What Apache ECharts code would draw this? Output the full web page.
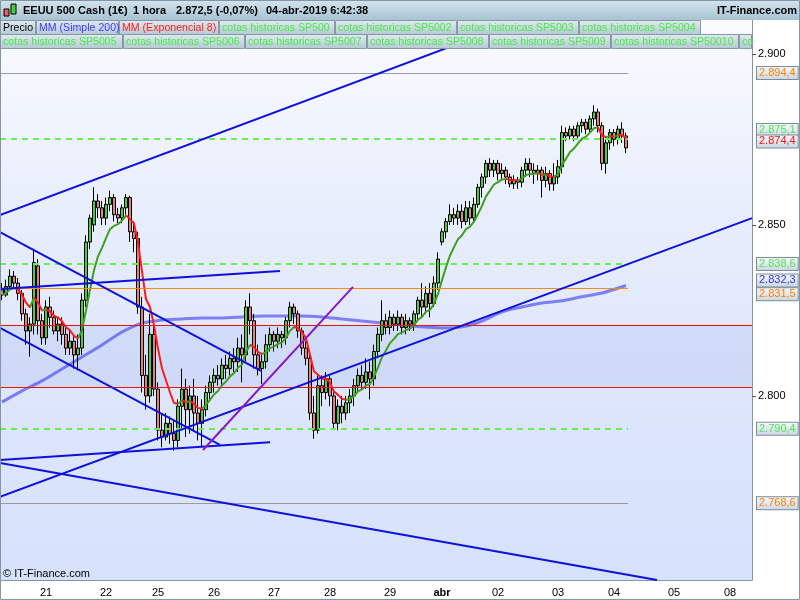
<!DOCTYPE html>
<html>
<head>
<meta charset="utf-8">
<script src="https://cdn.jsdelivr.net/npm/echarts@6/dist/echarts.min.js"></script>
<style>
  html, body { margin: 0; padding: 0; background: #fff; }
  #chart { width: 800px; height: 600px; }
</style>
</head>
<body>
<div id="chart"></div>
<script>
// x axis: one slot per candle, day labels at these slots
const slotCount = 188;
const dayLabels = ['21', '22', '25', '26', '27', '28', '29', 'abr', '02', '03', '04', '05', '08'];
const daySlots = [11, 26, 39, 53, 68, 82, 97, 110, 124, 139, 153, 168, 182];

// y axis extent and labelled ticks
const yMin = 2746.2;
const yMax = 2909.9;
const yTicks = [2800, 2850, 2900];

// [open, close, low, high]
const candles = [
  [2831, 2829.5, 2828, 2833], [2829.5, 2832, 2829, 2834], [2832, 2835, 2831, 2837], [2835, 2833, 2831.5, 2836.5],
  [2833, 2830, 2828, 2834.5], [2830, 2824, 2822, 2831], [2824, 2819, 2815, 2825.5], [2819, 2821, 2811.5, 2823],
  [2821, 2839, 2818, 2843], [2838, 2822, 2818, 2840], [2822, 2817, 2815, 2824], [2817, 2826, 2815, 2828],
  [2826, 2823, 2820, 2829], [2823, 2819, 2818, 2825], [2819, 2821, 2816, 2823], [2821, 2818, 2815, 2823],
  [2818, 2814, 2812, 2820], [2814, 2816, 2812, 2819], [2816, 2812, 2808, 2818], [2812, 2814, 2807.5, 2818],
  [2814, 2828, 2812, 2830], [2828, 2845, 2826, 2847], [2845, 2852, 2843, 2853], [2850, 2857, 2848, 2861],
  [2857, 2855, 2852, 2859], [2855, 2852, 2850, 2857], [2852, 2856, 2850, 2858], [2856, 2858, 2854, 2860],
  [2858, 2853, 2851, 2859], [2853, 2852, 2850.5, 2855], [2852, 2855, 2850.5, 2856], [2855, 2858, 2853, 2859],
  [2858, 2848, 2845, 2858.5], [2848, 2846, 2842, 2851], [2846, 2826, 2824, 2848], [2826, 2806, 2801, 2829],
  [2806, 2800, 2796, 2812], [2800, 2818, 2798, 2824], [2818, 2802, 2800, 2822], [2802, 2790, 2787, 2804],
  [2790, 2788, 2785, 2795], [2788, 2792, 2787, 2795], [2792, 2789, 2786, 2794], [2789, 2787, 2784, 2793],
  [2787, 2797, 2785, 2799], [2797, 2802, 2790, 2808], [2802, 2796, 2788, 2805], [2796, 2800, 2789, 2803],
  [2800, 2795, 2790, 2805], [2795, 2792, 2787, 2800], [2792, 2796, 2785, 2799], [2796, 2801, 2794, 2803],
  [2801, 2804, 2799, 2806], [2804, 2806, 2801, 2808], [2806, 2805, 2803, 2809], [2805, 2809, 2803, 2811],
  [2809, 2808, 2805, 2812], [2808, 2811, 2806, 2813], [2811, 2810, 2807, 2814], [2810, 2814, 2807, 2817],
  [2814, 2812, 2804, 2818], [2812, 2826, 2810, 2828], [2826, 2822, 2818, 2830], [2822, 2812, 2808, 2824],
  [2812, 2808, 2806, 2815], [2808, 2810, 2803.5, 2812], [2810, 2815, 2808, 2818], [2815, 2818, 2813, 2820],
  [2818, 2816, 2813, 2819], [2816, 2818, 2814, 2820], [2818, 2817, 2814, 2819], [2817, 2822, 2815, 2823],
  [2822, 2826, 2820, 2827.5], [2826, 2824, 2821, 2827], [2824, 2819, 2817, 2825], [2819, 2814, 2812, 2820],
  [2814, 2811, 2809, 2816], [2811, 2795, 2793, 2813], [2795, 2790, 2787.5, 2800], [2790, 2803, 2789, 2806],
  [2803, 2801, 2797, 2806], [2801, 2805, 2799, 2807], [2805, 2800, 2797, 2806], [2800, 2792, 2790, 2802],
  [2792, 2797, 2790, 2799], [2797, 2795, 2792, 2800], [2795, 2798, 2793, 2800], [2798, 2800, 2795, 2802],
  [2800, 2803, 2797, 2805], [2803, 2806, 2801, 2808], [2806, 2804, 2802, 2809], [2804, 2807, 2802, 2811],
  [2807, 2805, 2799, 2810], [2805, 2813, 2803, 2815], [2813, 2818, 2811, 2820], [2818, 2822, 2816, 2828],
  [2822, 2820, 2818, 2824], [2820, 2823, 2818, 2825], [2823, 2821, 2819, 2824], [2821, 2823, 2819, 2825],
  [2823, 2820, 2818, 2824], [2820, 2822, 2818, 2824], [2822, 2821, 2819, 2823], [2821, 2824, 2819, 2825],
  [2824, 2828, 2822, 2829], [2828, 2826, 2823, 2833], [2826, 2830, 2824, 2832], [2830, 2827, 2823, 2833],
  [2827, 2833, 2826, 2835], [2833, 2840, 2831, 2842], [2845, 2848, 2844, 2849], [2848, 2851, 2846, 2852],
  [2851, 2853, 2850, 2856], [2853, 2852, 2850, 2855], [2852, 2854, 2850, 2856], [2854, 2851, 2849, 2856],
  [2851, 2855, 2850, 2857], [2855, 2852, 2850, 2857], [2852, 2856, 2851, 2858], [2856, 2861, 2855, 2862],
  [2861, 2864, 2858, 2865], [2864, 2868, 2862, 2869], [2868, 2866, 2864, 2869.5], [2866, 2868, 2864, 2869],
  [2868, 2865, 2863, 2869], [2865, 2866, 2863, 2868], [2866, 2864, 2862, 2867], [2864, 2862, 2861, 2865],
  [2862, 2863, 2860.5, 2864.5], [2863, 2862.5, 2860.5, 2864], [2862.5, 2866, 2861, 2867], [2866, 2868, 2864, 2869.5],
  [2868, 2866, 2864, 2869.5], [2866, 2865, 2862, 2868], [2865, 2866, 2863, 2867.5], [2866, 2863, 2858, 2867],
  [2863, 2865, 2861, 2867], [2865, 2862, 2860, 2866], [2862, 2864, 2860, 2868], [2864, 2867, 2862, 2869],
  [2867, 2877, 2865, 2879], [2877, 2876, 2874.5, 2878.5], [2876, 2878, 2875, 2879], [2878, 2876, 2874.5, 2879],
  [2876, 2879, 2875, 2880], [2879, 2880, 2877, 2881], [2880, 2878, 2876.5, 2881], [2878, 2881, 2877, 2882],
  [2881, 2883, 2879, 2885], [2883, 2879, 2877, 2884], [2879, 2868, 2866, 2880], [2868, 2874, 2865, 2876],
  [2874, 2877, 2872, 2878], [2877, 2875, 2873, 2878], [2875, 2878, 2873.5, 2879], [2878, 2876, 2874, 2880],
  [2876, 2872.5, 2871, 2877]
];

// MM (Simple 200) as [slot, value]
const sma200 = [
  [0, 2798.2], [5, 2801.5], [10, 2804.4], [15, 2807.9], [20, 2811.4], [25, 2814.9], [30, 2818.7],
  [35, 2821.3], [40, 2822.2], [45, 2822.5], [50, 2822.8], [55, 2822.8], [60, 2823.1], [65, 2823.4],
  [70, 2823.4], [75, 2823.4], [80, 2823.1], [85, 2822.5], [90, 2821.9], [95, 2821.3], [100, 2820.8],
  [105, 2820.2], [110, 2819.9], [115, 2820.2], [120, 2821.9], [125, 2824.6], [130, 2826.0],
  [135, 2827.2], [140, 2827.8], [145, 2829.0], [150, 2830.1], [156, 2832.3]
];

// horizontal levels ("cotas historicas") drawn up to the last candle
const levelValues = [2894.4, 2875.1, 2838.6, 2831.5, 2790.4, 2768.6];
const levelKinds = ['gray', 'green', 'green', 'orange', 'green', 'gray'];
// full width red lines
const bandValues = [2802.6, 2820.6];

// drawn trend lines, [slot, price] end points
const trendLines = [
  [[-0.5, 2852.9], [140, 2914.3]],
  [[-0.5, 2847.9], [64.75, 2807.3]],
  [[-0.5, 2819.9], [54.5, 2785.7]],
  [[-0.5, 2831.3], [69.5, 2836.5]],
  [[-0.5, 2781.3], [67, 2786.5]],
  [[-0.5, 2770.5], [187.5, 2852.0]],
  [[-0.5, 2780.4], [163.75, 2746.2]]
];
const purpleLine = [[50.25, 2784.2], [87.75, 2831.9]];

// price tags on the right axis
const tagValues = [2894.4, 2875.1, 2874.4, 2838.6, 2832.3, 2831.5, 2790.4, 2768.6];
const tagKinds = ['orange', 'green', 'red', 'green', 'blue', 'orange', 'green', 'orange'];
const tagShift = [0, -9, 0, 0, -5, 6, 0, 0];

const FONT = '"Liberation Sans", Arial, sans-serif';
const kindColor = { gray: '#9a9a9a', green: '#5cec5c', orange: '#ff8a10', red: '#ff1010', blue: '#3434f0' };
const tagColor = { green: '#4ee44e', orange: '#ff7f00', red: '#ff1010', blue: '#3434f0' };

const fmt = (v, d) => {
  const s = v.toFixed(d).split('.');
  const int = s[0].replace(/\B(?=(\d{3})+(?!\d))/g, '.');
  return s[1] ? int + ',' + s[1] : int;
};

const categories = [];
for (let i = 0; i < slotCount; i++) {
  const k = daySlots.indexOf(i);
  categories.push(k >= 0 ? dayLabels[k] : '');
}

// EMA 8 on closes, red where falling
const ema = [];
candles.forEach((c, i) => {
  ema.push(i === 0 ? c[1] : ema[i - 1] + (c[1] - ema[i - 1]) * 2 / 9);
});
const emaData = ema.map((v, i) => [i, v]);
const fallPieces = [];
let runStart = -1;
for (let i = 1; i <= ema.length; i++) {
  const falling = i < ema.length && ema[i] < ema[i - 1];
  if (falling && runStart < 0) runStart = i - 1;
  if (!falling && runStart >= 0) {
    fallPieces.push({ gte: runStart, lte: i - 1, color: '#ff1a1a' });
    runStart = -1;
  }
}

const grad = (stops) => new echarts.graphic.LinearGradient(0, 0, 0, 1,
  stops.map((c, i) => ({ offset: i / (stops.length - 1), color: c })));

// legend cells at the top
const cellsRow1 = [
  ['Precio', '#000', 0, 36], ['MM (Simple 200)', '#3c3cff', 36, 83], ['MM (Exponencial 8)', '#ff2020', 119, 100],
  ['cotas historicas SP500', '#44ee44', 219, 116], ['cotas historicas SP5002', '#44ee44', 335, 122],
  ['cotas historicas SP5003', '#44ee44', 457, 122], ['cotas historicas SP5004', '#44ee44', 579, 122]
];
const cellsRow2 = [
  ['cotas historicas SP5005', '#44ee44', 0, 123], ['cotas historicas SP5006', '#44ee44', 123, 122],
  ['cotas historicas SP5007', '#44ee44', 245, 122], ['cotas historicas SP5008', '#44ee44', 367, 122],
  ['cotas historicas SP5009', '#44ee44', 489, 122], ['cotas historicas SP50010', '#44ee44', 611, 128],
  ['co', '#44ee44', 739, 13]
];
const cellEls = [];
[[cellsRow1, 20], [cellsRow2, 34]].forEach(([row, top]) => {
  row.forEach(([txt, col, x, w]) => {
    cellEls.push({
      type: 'rect', z: 100,
      shape: { x: x + 0.5, y: top + 0.5, width: w - 1, height: 14 },
      style: { fill: grad(['#e2eaf0', '#b4c8d4']), stroke: '#8699a6', lineWidth: 1 }
    });
    cellEls.push({
      type: 'text', z: 101, x: x + 3, y: top + 8,
      style: { text: txt, fill: col, font: '10.6px ' + FONT, textVerticalAlign: 'middle' }
    });
  });
});

const chart = echarts.init(document.getElementById('chart'), null, { renderer: 'canvas' });

const option = {
  animation: false,
  backgroundColor: '#fff',
  grid: {
    left: 0, right: 48, top: 20, bottom: 20, show: true, borderWidth: 0,
    backgroundColor: grad(['#fafbff', '#e8eefc', '#dde6fb', '#d6e2fc'])
  },
  xAxis: [
    {
      type: 'category', data: categories, boundaryGap: true,
      axisLine: { lineStyle: { color: '#8596a3' } },
      axisTick: { alignWithLabel: true, length: 4, lineStyle: { color: '#8596a3' }, interval: (i, v) => v !== '' },
      axisLabel: {
        interval: (i, v) => v !== '', color: '#000', fontSize: 11, fontFamily: FONT, margin: 7,
        formatter: (v) => (v === 'abr' ? '{b|abr}' : v),
        rich: { b: { fontWeight: 'bold', fontSize: 11, fontFamily: FONT, color: '#000' } }
      },
      splitLine: { show: false }
    },
    { type: 'value', min: -0.5, max: slotCount - 0.5, show: false }
  ],
  yAxis: {
    type: 'value', position: 'right', min: yMin, max: yMax, scale: true,
    axisLine: { show: true, onZero: false, lineStyle: { color: '#8596a3' } },
    axisTick: { show: true, length: 4, customValues: yTicks, lineStyle: { color: '#555' } },
    axisLabel: { customValues: yTicks, color: '#000', fontSize: 11, fontFamily: FONT, margin: 6, formatter: (v) => fmt(v, 0) },
    splitLine: { show: false }
  },
  visualMap: {
    show: false, type: 'piecewise', seriesIndex: 3, dimension: 0,
    pieces: fallPieces, outOfRange: { color: '#3f9d1f' }
  },
  series: [
    {
      // levels, band and the red lines
      type: 'line', xAxisIndex: 1, data: [], z: 1, silent: true,
      markArea: {
        silent: true,
        itemStyle: { color: 'rgba(150,175,235,0.22)' },
        data: [[{ yAxis: bandValues[0] }, { yAxis: bandValues[1] }]]
      },
      markLine: {
        silent: true, symbol: 'none', label: { show: false },
        data: levelValues.map((v, i) => [
          {
            coord: [-0.5, v],
            lineStyle: levelKinds[i] === 'green'
              ? { color: '#66ee55', width: 2, type: [6, 5] }
              : { color: kindColor[levelKinds[i]], width: 1, type: 'solid' }
          },
          { coord: [candles.length - 0.5, v] }
        ]).concat(bandValues.map((v) => ({ yAxis: v, lineStyle: { color: '#ee1111', width: 1, type: 'solid' } })))
      }
    },
    {
      name: 'MM (Simple 200)', type: 'line', xAxisIndex: 1, data: sma200, z: 2,
      symbol: 'none', smooth: 0.3, silent: true,
      lineStyle: { color: '#4646ee', width: 3, opacity: 0.65 }
    },
    {
      name: 'Precio', type: 'candlestick', xAxisIndex: 0, data: candles, z: 3,
      barWidth: 3, silent: true,
      itemStyle: { color: '#45cf45', color0: '#e98080', borderColor: '#000', borderColor0: '#000', borderWidth: 1 }
    },
    {
      name: 'MM (Exponencial 8)', type: 'line', xAxisIndex: 1, data: emaData, z: 4,
      symbol: 'none', silent: true, lineStyle: { width: 2 }
    },
    {
      // price tags at the right edge
      type: 'line', xAxisIndex: 1, data: [], z: 6, silent: true,
      markLine: {
        silent: true, symbol: 'none',
        data: tagValues.map((v, i) => ({
          yAxis: v,
          lineStyle: { color: 'rgba(0,0,0,0)', width: 1 },
          label: {
            show: true, position: 'end', distance: 5, offset: [0, tagShift[i]],
            formatter: fmt(v, 1), color: tagColor[tagKinds[i]],
            fontSize: 11, fontFamily: FONT, padding: [1, 2, 0, 2],
            backgroundColor: { type: 'linear', x: 0, y: 0, x2: 0, y2: 1, colorStops: [{ offset: 0, color: '#f8fafc' }, { offset: 1, color: '#c9d6e2' }] },
            borderColor: '#7a8c99', borderWidth: 1
          }
        }))
      }
    }
  ].concat(trendLines.map((pts) => ({
    type: 'line', xAxisIndex: 1, data: pts, z: 5, symbol: 'none', silent: true,
    lineStyle: { color: '#1010dd', width: 2 }
  }))).concat([{
    type: 'line', xAxisIndex: 1, data: purpleLine, z: 5, symbol: 'none', silent: true,
    lineStyle: { color: '#8a18c8', width: 2 }
  }]),
  graphic: {
    elements: [
      { type: 'rect', z: 100, shape: { x: 0, y: 0, width: 800, height: 20 }, style: { fill: grad(['#d2e4ee', '#a9c3d2']) } },
      { type: 'rect', z: 101, shape: { x: 4, y: 9, width: 5, height: 7 }, style: { fill: '#e86060', stroke: '#000', lineWidth: 1 } },
      { type: 'rect', z: 101, shape: { x: 11, y: 4, width: 5, height: 10 }, style: { fill: '#40d040', stroke: '#000', lineWidth: 1 } },
      { type: 'text', z: 101, x: 23, y: 11, style: { text: 'EEUU 500 Cash (1€)', fill: '#000', font: 'bold 11px ' + FONT, textVerticalAlign: 'middle' } },
      { type: 'text', z: 101, x: 133, y: 11, style: { text: '1 hora', fill: '#000', font: 'bold 11px ' + FONT, textVerticalAlign: 'middle' } },
      { type: 'text', z: 101, x: 176, y: 11, style: { text: '2.872,5 (-0,07%)', fill: '#000', font: 'bold 11px ' + FONT, textVerticalAlign: 'middle' } },
      { type: 'text', z: 101, x: 266, y: 11, style: { text: '04-abr-2019 6:42:38', fill: '#000', font: 'bold 11px ' + FONT, textVerticalAlign: 'middle' } },
      { type: 'text', z: 101, x: 797, y: 11, style: { text: 'IT-Finance.com', fill: '#000', font: 'bold 11px ' + FONT, textAlign: 'right', textVerticalAlign: 'middle' } },
      { type: 'text', z: 101, x: 3, y: 574, style: { text: '© IT-Finance.com', fill: '#000', font: '11px ' + FONT, textVerticalAlign: 'middle' } },
      { type: 'rect', z: 102, shape: { x: 0.5, y: 0.5, width: 799, height: 599 }, style: { fill: 'none', stroke: '#8596a3', lineWidth: 1 } }
    ].concat(cellEls)
  }
};

chart.setOption(option);
</script>
</body>
</html>
